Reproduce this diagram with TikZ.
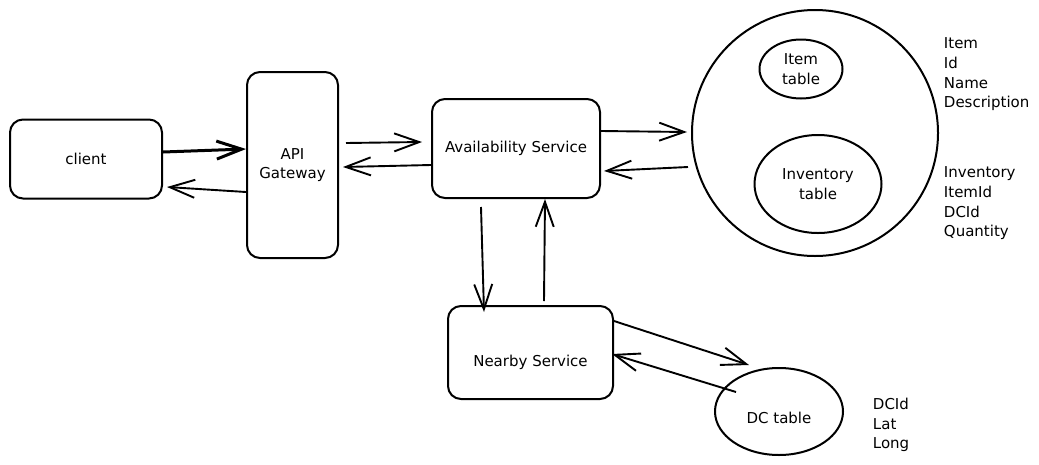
\documentclass[tikz,border=0pt]{standalone}
\usepackage{fontspec}
\setmainfont{DejaVu Sans}
\usepackage{tikz}
\usetikzlibrary{arrows.meta, positioning, shapes.geometric}
\tikzset{
  box/.style={
    rectangle,
    draw,
    line width=2pt,
    rounded corners=13pt,
    inner sep=0pt,
    font=\fontsize{15}{19.7}\selectfont,
    align=center
  },
  tbl/.style={
    ellipse,
    draw,
    line width=2pt,
    inner sep=0pt,
    font=\fontsize{15}{19.7}\selectfont,
    align=center
  },
  fields/.style={
    anchor=north west,
    inner sep=0pt,
    font=\fontsize{15}{19.7}\selectfont,
    align=left
  }
}

\begin{document}
\begin{tikzpicture}[->, >={Straight Barb[length=25pt,width=18pt]}, x=1pt, y=-1pt, line width=1.9pt]
        \useasboundingbox (0,0) rectangle (1039,464);

        % Define the nodes
        \node[box, minimum width=152pt, minimum height=79pt]  (client) at (86,159)    {client};
        \node[box, minimum width=91pt,  minimum height=186pt] (api)    at (292.5,165) {API\\Gateway};
        \node[box, minimum width=168pt, minimum height=99pt]  (avail)  at (516,148.5) {Availability Service};
        \node[box, minimum width=165pt, minimum height=93pt, text height=31pt] (nearby) at (530.5,352.5) {Nearby Service};

        % databases
        \node[circle, draw, line width=2pt, minimum size=246pt] (db) at (815,133) {};
        \node[tbl, minimum width=83pt,  minimum height=59pt] (item) at (801,69)  {Item\\table};
        \node[tbl, minimum width=127pt, minimum height=98pt] (inv)  at (818,184) {Inventory\\table};
        \node[tbl, minimum width=128pt, minimum height=87pt, text height=25pt] (dc) at (779,411.5) {DC table};

        % columns of each table
        \node[fields] (itemcols) at (943,37)  {Item\\Id\\Name\\Description};
        \node[fields] (invcols)  at (943,166) {Inventory\\ItemId\\DCId\\Quantity};
        \node[fields] (dccols)   at (872,397) {DCId\\Lat\\Long};

        % Arrows between the services
        \path ([yshift=7pt]client.east) edge[line width=3pt] ([yshift=16pt]api.west);
        \path ([yshift=-27pt]api.west) edge ([xshift=4pt,yshift=-28pt]client.east);

        \path ([xshift=7pt,yshift=22pt]api.east) edge ([xshift=-9pt,yshift=6.5pt]avail.west);
        \path ([yshift=-16.5pt]avail.west) edge ([xshift=4pt,yshift=-2pt]api.east);

        \path ([yshift=17.5pt]avail.east) edge ([xshift=-4pt,yshift=1pt]db.west);
        \path ([xshift=-3pt,yshift=-34pt]db.west) edge ([xshift=3pt,yshift=-22.5pt]avail.east);

        \path ([xshift=-35pt,yshift=-8pt]avail.south) edge ([xshift=-46.5pt,yshift=-7pt]nearby.north);
        \path ([xshift=13.5pt,yshift=4pt]nearby.north) edge ([xshift=29pt]avail.south);

        \path ([yshift=31.5pt]nearby.east) edge ([xshift=-30pt,yshift=2pt]dc.north);
        \path ([xshift=-43pt,yshift=19.5pt]dc.center) edge ([xshift=-2pt,yshift=-1.5pt]nearby.east);
    \end{tikzpicture}
\end{document}
